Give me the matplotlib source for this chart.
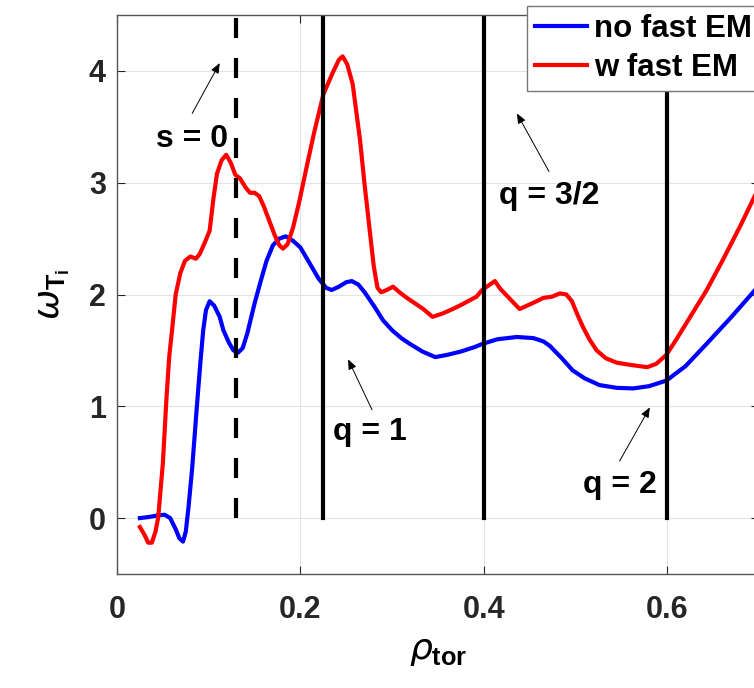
import matplotlib
matplotlib.use('Agg')
import matplotlib.pyplot as plt
import numpy as np

# omega_Ti profiles
rho_no = [0.025, 0.035, 0.045, 0.052, 0.058, 0.064, 0.068, 0.072, 0.075, 0.078, 0.082, 0.087,
          0.091, 0.094, 0.097, 0.101, 0.106, 0.112, 0.116, 0.122, 0.127, 0.132, 0.137, 0.142,
          0.150, 0.156, 0.163, 0.170, 0.177, 0.184, 0.192, 0.200, 0.210, 0.220, 0.228, 0.234,
          0.242, 0.250, 0.256, 0.263, 0.270, 0.280, 0.290, 0.300, 0.310, 0.319, 0.333, 0.347,
          0.360, 0.375, 0.390, 0.399, 0.415, 0.436, 0.454, 0.465, 0.472, 0.485, 0.497, 0.510,
          0.526, 0.545, 0.563, 0.580, 0.599, 0.620, 0.643, 0.670, 0.700]
w_no = [0.0, 0.01, 0.025, 0.03, 0.0, -0.1, -0.18, -0.21, -0.12, 0.1, 0.45, 0.99,
        1.4, 1.68, 1.86, 1.94, 1.9, 1.8, 1.68, 1.57, 1.5, 1.48, 1.52, 1.65,
        1.92, 2.1, 2.3, 2.44, 2.5, 2.52, 2.48, 2.42, 2.28, 2.14, 2.06, 2.04,
        2.07, 2.11, 2.12, 2.09, 2.02, 1.9, 1.77, 1.68, 1.61, 1.56, 1.49, 1.44,
        1.46, 1.49, 1.53, 1.56, 1.6, 1.62, 1.61, 1.58, 1.54, 1.43, 1.32, 1.25,
        1.19, 1.165, 1.16, 1.18, 1.23, 1.36, 1.56, 1.8, 2.08]

rho_em = [0.025, 0.030, 0.034, 0.038, 0.042, 0.045, 0.048, 0.050, 0.054, 0.057, 0.060, 0.064,
          0.069, 0.074, 0.080, 0.086, 0.090, 0.095, 0.101, 0.105, 0.109, 0.114, 0.119, 0.124,
          0.129, 0.134, 0.140, 0.145, 0.150, 0.155, 0.160, 0.166, 0.172, 0.177, 0.181, 0.186,
          0.192, 0.199, 0.207, 0.215, 0.225, 0.235, 0.242, 0.246, 0.251, 0.257, 0.265, 0.270,
          0.276, 0.280, 0.284, 0.288, 0.294, 0.301, 0.308, 0.316, 0.325, 0.334, 0.344, 0.355,
          0.366, 0.376, 0.385, 0.392, 0.398, 0.405, 0.412, 0.418, 0.425, 0.432, 0.439, 0.447,
          0.455, 0.465, 0.474, 0.483, 0.490, 0.496, 0.502, 0.508, 0.515, 0.523, 0.533, 0.545,
          0.560, 0.578, 0.588, 0.599, 0.610, 0.625, 0.643, 0.660, 0.680, 0.700]
w_em = [-0.08, -0.15, -0.22, -0.22, -0.12, 0.01, 0.3, 0.49, 1.08, 1.45, 1.68, 2.0,
        2.19, 2.3, 2.34, 2.32, 2.36, 2.45, 2.57, 2.85, 3.08, 3.2, 3.25, 3.18,
        3.07, 3.04, 2.96, 2.91, 2.91, 2.88, 2.79, 2.66, 2.53, 2.44, 2.41, 2.45,
        2.6, 2.84, 3.15, 3.45, 3.79, 3.98, 4.1, 4.13, 4.06, 3.88, 3.38, 2.98,
        2.54, 2.25, 2.06, 2.02, 2.04, 2.07, 2.02, 1.97, 1.92, 1.87, 1.8, 1.83,
        1.87, 1.91, 1.95, 1.98, 2.04, 2.08, 2.12, 2.05, 1.99, 1.93, 1.87, 1.9,
        1.93, 1.97, 1.98, 2.01, 2.0, 1.94, 1.82, 1.71, 1.6, 1.5, 1.43, 1.39,
        1.37, 1.35, 1.38, 1.46, 1.6, 1.8, 2.04, 2.3, 2.62, 2.96]

# rational surfaces / s=0 position
rho_s0 = 0.13
rho_q = [0.225, 0.40, 0.60]

# labels: (text, text pos, arrow tail, arrow head)
notes = [('s = 0', (0.082, 3.39), (0.082, 3.62), (0.112, 4.07)),
         ('q = 3/2', (0.471, 2.88), (0.471, 3.10), (0.436, 3.62)),
         ('q = 1', (0.276, 0.77), (0.278, 0.97), (0.252, 1.42)),
         ('q = 2', (0.548, 0.30), (0.548, 0.51), (0.581, 0.99))]

plt.rcParams['font.family'] = ['Liberation Sans', 'DejaVu Sans']
plt.rcParams['mathtext.fontset'] = 'custom'
plt.rcParams['mathtext.it'] = 'DejaVu Sans:italic'
plt.rcParams['mathtext.bf'] = 'Liberation Sans:bold'
plt.rcParams['mathtext.rm'] = 'Liberation Sans'

fig = plt.figure(figsize=(7.54, 6.88), dpi=100)
ax = fig.add_axes([117/754, 114/688, 642/754, 559/688])

ax.plot(rho_no, w_no, color='#0000ff', lw=3, label='no fast EM')
ax.plot(rho_em, w_em, color='#ff0000', lw=3, label='w fast EM')

ax.plot([rho_s0, rho_s0], [0, 4.5], color='k', lw=3, linestyle=(0, (4.8, 4.8)))
for r in rho_q:
    ax.plot([r, r], [0, 4.5], color='k', lw=3)

for txt, tp, tail, head in notes:
    ax.text(tp[0], tp[1], txt, fontsize=23, fontweight='bold', ha='center', va='center')
    ax.annotate('', xy=head, xytext=tail,
                arrowprops=dict(arrowstyle='-|>,head_length=0.6,head_width=0.25',
                                color='k', lw=0.7, shrinkA=0, shrinkB=0))

ax.set_xlim(0, 0.7)
ax.set_ylim(-0.5, 4.5)
ax.set_xticks([0, 0.2, 0.4, 0.6])
ax.set_xticklabels(['0', '0.2', '0.4', '0.6'])
ax.set_yticks([0, 1, 2, 3, 4])
ax.grid(True, color='#e3e3e3', lw=0.8)
ax.set_axisbelow(True)
ax.tick_params(direction='in', length=6, width=0.8, top=True, right=True,
               labelsize=22, colors='#262626', labelcolor='#262626')
ax.tick_params(axis='x', pad=15)
ax.tick_params(axis='y', pad=8)
for lab in ax.get_xticklabels() + ax.get_yticklabels():
    lab.set_fontweight('bold')
for s in ax.spines.values():
    s.set_color('#555555')
    s.set_linewidth(1.0)

ax.set_xlabel(r'$\rho_{\mathbf{tor}}$', fontsize=26, labelpad=6)
ax.set_ylabel(r'$\omega_{\mathbf{T_i}}$', fontsize=26, labelpad=12)

leg = ax.legend(loc='upper left', bbox_to_anchor=(0.639, 1.016),
                frameon=True, fancybox=False, framealpha=1, edgecolor='#777777',
                handlelength=1.65, handletextpad=0.25, borderpad=0.25, labelspacing=0.3,
                borderaxespad=0, prop={'weight': 'bold', 'size': 22.5})
leg.get_frame().set_linewidth(1.0)

fig.savefig('out.png', dpi=100)
